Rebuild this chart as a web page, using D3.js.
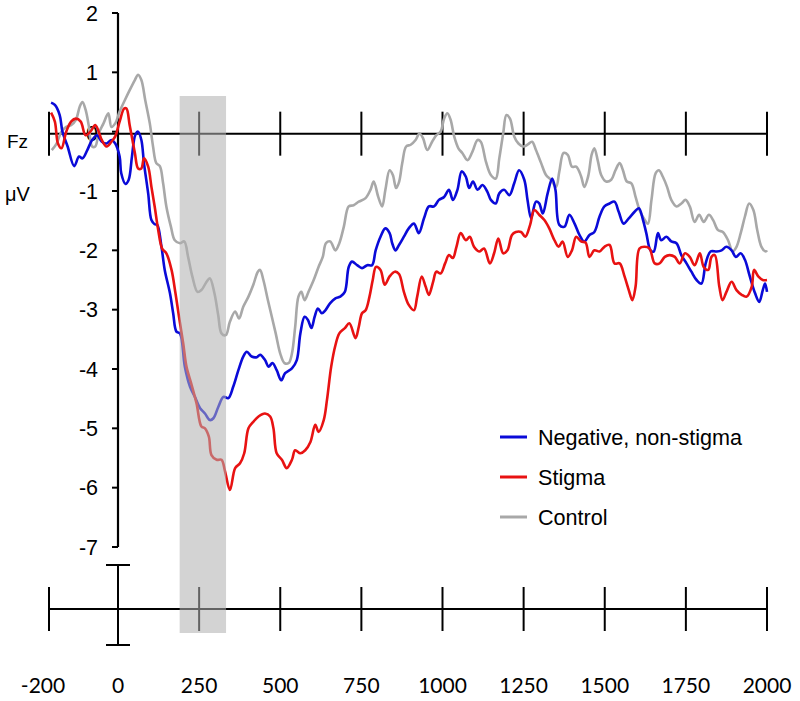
<!DOCTYPE html>
<html><head><meta charset="utf-8">
<script src="https://cdn.jsdelivr.net/npm/d3@7"></script>
<style>body{margin:0;background:#fff}svg{display:block}</style>
</head><body><svg id="c" width="800" height="701"></svg>
<script>
// ---- data ----
const xTicks = [-200, 0, 250, 500, 750, 1000, 1250, 1500, 1750, 2000];
const yTicks = [2, 1, 0, -1, -2, -3, -4, -5, -6, -7];
const seriesNames = ["Negative, non-stigma", "Stigma", "Control"];
const seriesColors = ["#0a0ad8", "#e81212", "#a8a8a8"];
const shadeWindow = [190, 333];

const negative = [[-194,0.49],[-183,0.45],[-169,0.28],[-161,0.0],[-146,-0.25],[-127,-0.58],[-113,-0.42],[-103,-0.45],[-89,-0.31],[-75,-0.14],[-61,-0.06],[-47,-0.17],[-33,-0.2],[-19,-0.14],[-8,-0.2],[5,-0.42],[10,-0.70],[23,-0.88],[33,-0.81],[43,-0.42],[53,-0.06],[62,0.0],[72,-0.14],[80,-0.53],[93,-1.04],[103,-1.49],[113,-1.56],[121,-1.57],[134,-1.94],[144,-2.33],[160,-2.72],[170,-3.06],[180,-3.37],[191,-3.40],[206,-3.96],[222,-4.30],[237,-4.47],[253,-4.66],[268,-4.75],[283,-4.86],[294,-4.83],[309,-4.64],[325,-4.47],[340,-4.49],[355,-4.30],[371,-4.02],[386,-3.79],[397,-3.71],[412,-3.79],[428,-3.80],[438,-3.76],[453,-3.85],[464,-3.96],[476,-3.90],[489,-4.02],[503,-4.19],[515,-4.07],[536,-3.99],[551,-3.85],[562,-3.40],[575,-3.12],[585,-3.17],[596,-3.31],[606,-3.12],[616,-2.98],[628,-3.06],[639,-3.01],[654,-2.89],[670,-2.81],[685,-2.78],[699,-2.70],[711,-2.28],[721,-2.19],[737,-2.25],[752,-2.30],[768,-2.25],[783,-2.25],[794,-2.0],[809,-1.77],[824,-1.63],[837,-1.71],[845,-1.88],[855,-2.0],[866,-1.91],[881,-1.77],[896,-1.63],[912,-1.55],[927,-1.71],[943,-1.46],[958,-1.26],[974,-1.26],[989,-1.15],[1005,-1.10],[1020,-0.98],[1032,-1.15],[1046,-0.98],[1059,-0.67],[1072,-0.76],[1082,-0.95],[1094,-0.84],[1108,-0.98],[1123,-0.90],[1138,-1.01],[1149,-1.15],[1164,-1.21],[1175,-1.04],[1190,-0.98],[1206,-1.07],[1221,-0.87],[1236,-0.65],[1252,-0.81],[1262,-1.15],[1273,-1.46],[1288,-1.18],[1298,-1.21],[1309,-1.38],[1324,-1.04],[1338,-0.79],[1348,-0.98],[1360,-1.57],[1376,-1.60],[1391,-1.40],[1407,-1.55],[1422,-1.74],[1437,-1.85],[1453,-1.74],[1468,-1.69],[1484,-1.43],[1499,-1.26],[1515,-1.21],[1530,-1.18],[1543,-1.35],[1558,-1.55],[1574,-1.46],[1592,-1.35],[1605,-1.29],[1618,-1.49],[1628,-1.71],[1641,-2.0],[1651,-2.02],[1664,-1.71],[1674,-1.83],[1690,-1.77],[1705,-1.85],[1721,-1.88],[1736,-2.08],[1752,-2.22],[1767,-2.36],[1783,-2.50],[1798,-2.56],[1811,-2.22],[1826,-2.02],[1845,-2.02],[1860,-2.0],[1875,-1.94],[1891,-2.0],[1904,-2.11],[1919,-2.05],[1932,-2.16],[1947,-2.44],[1963,-2.72],[1976,-2.87],[1987,-2.67],[1994,-2.56],[2000,-2.70]];

const stigma = [[-194,0.32],[-183,0.17],[-174,-0.2],[-164,-0.28],[-150,0.0],[-136,0.17],[-122,0.22],[-108,0.17],[-94,-0.06],[-80,0.0],[-66,0.11],[-56,0.0],[-47,-0.14],[-33,-0.25],[-19,-0.17],[-8,-0.08],[5,0.17],[19,0.39],[26,0.39],[36,0.11],[52,-0.36],[62,-0.62],[72,-0.62],[80,-0.45],[93,-0.59],[103,-0.93],[113,-1.26],[124,-1.66],[136,-1.97],[149,-2.05],[165,-2.33],[177,-2.72],[188,-3.12],[201,-3.57],[211,-3.96],[227,-4.27],[242,-4.58],[257,-4.97],[268,-5.0],[280,-5.14],[288,-5.45],[304,-5.53],[319,-5.53],[330,-5.73],[345,-6.04],[361,-5.67],[376,-5.59],[389,-5.42],[402,-5.0],[417,-4.89],[433,-4.80],[453,-4.75],[469,-4.80],[479,-5.0],[489,-5.42],[505,-5.53],[520,-5.67],[536,-5.53],[546,-5.37],[562,-5.42],[577,-5.37],[593,-5.23],[608,-4.94],[618,-5.06],[634,-4.86],[644,-4.52],[657,-3.96],[670,-3.60],[682,-3.40],[699,-3.31],[713,-3.23],[732,-3.48],[742,-3.29],[752,-3.06],[763,-3.01],[775,-2.78],[785,-2.50],[795,-2.28],[809,-2.33],[822,-2.58],[837,-2.44],[853,-2.36],[866,-2.40],[881,-2.70],[896,-2.92],[912,-3.01],[922,-2.78],[936,-2.44],[948,-2.61],[958,-2.75],[971,-2.53],[981,-2.36],[994,-2.39],[1008,-2.22],[1020,-2.08],[1032,-2.13],[1043,-1.94],[1056,-1.71],[1072,-1.83],[1084,-1.77],[1097,-1.94],[1113,-2.02],[1128,-1.97],[1146,-2.22],[1159,-2.05],[1172,-1.80],[1187,-2.05],[1200,-2.0],[1214,-1.74],[1226,-1.69],[1242,-1.69],[1255,-1.77],[1270,-1.57],[1283,-1.32],[1298,-1.40],[1314,-1.49],[1329,-1.63],[1345,-1.83],[1358,-1.94],[1370,-1.85],[1386,-2.11],[1399,-2.0],[1412,-1.77],[1427,-1.85],[1441,-1.87],[1453,-2.11],[1468,-2.0],[1484,-2.02],[1499,-1.94],[1515,-1.91],[1530,-2.22],[1546,-2.22],[1561,-2.44],[1574,-2.67],[1585,-2.84],[1595,-2.61],[1607,-1.97],[1623,-1.94],[1638,-1.97],[1654,-2.22],[1669,-2.22],[1685,-2.11],[1700,-2.08],[1716,-2.11],[1731,-2.22],[1747,-2.05],[1762,-2.11],[1777,-2.25],[1793,-2.05],[1805,-2.28],[1819,-2.33],[1829,-2.11],[1839,-2.08],[1853,-2.61],[1863,-2.84],[1875,-2.70],[1891,-2.53],[1906,-2.67],[1922,-2.75],[1937,-2.78],[1953,-2.61],[1960,-2.33],[1973,-2.44],[1987,-2.50],[2000,-2.50]];

const control = [[-192,-0.31],[-178,-0.2],[-164,0.0],[-150,0.08],[-136,0.11],[-122,0.2],[-111,0.42],[-103,0.5],[-94,0.37],[-85,0.11],[-75,-0.25],[-66,-0.25],[-56,-0.03],[-42,0.14],[-28,0.31],[-19,0.08],[-8,0.14],[5,0.34],[21,0.53],[36,0.70],[52,0.87],[62,0.96],[72,0.87],[84,0.53],[98,0.14],[108,-0.25],[118,-0.53],[129,-0.58],[139,-0.87],[149,-1.26],[163,-1.60],[175,-1.83],[191,-1.88],[204,-1.85],[216,-2.11],[229,-2.44],[245,-2.70],[257,-2.67],[273,-2.53],[283,-2.47],[297,-2.72],[309,-3.10],[319,-3.40],[332,-3.43],[345,-3.20],[361,-3.03],[373,-3.15],[386,-2.95],[402,-2.78],[417,-2.58],[431,-2.36],[438,-2.33],[448,-2.50],[462,-2.84],[474,-3.12],[486,-3.40],[500,-3.74],[513,-3.90],[526,-3.90],[536,-3.74],[546,-3.29],[556,-2.78],[565,-2.70],[575,-2.84],[587,-2.70],[603,-2.50],[618,-2.28],[631,-2.11],[641,-1.88],[654,-1.85],[670,-2.0],[682,-1.88],[696,-1.60],[711,-1.26],[726,-1.24],[742,-1.18],[763,-1.12],[778,-0.98],[788,-0.84],[802,-1.10],[814,-1.26],[824,-0.98],[837,-0.65],[847,-0.73],[857,-0.95],[866,-0.85],[876,-0.53],[888,-0.25],[902,-0.22],[917,-0.14],[929,-0.03],[940,-0.11],[953,-0.31],[968,-0.17],[981,-0.06],[994,0.0],[1005,0.22],[1015,0.31],[1025,0.2],[1036,-0.08],[1049,-0.28],[1061,-0.36],[1077,-0.48],[1092,-0.34],[1108,-0.14],[1118,-0.17],[1134,-0.51],[1149,-0.73],[1164,-0.79],[1175,-0.45],[1187,-0.03],[1197,0.28],[1208,0.22],[1221,-0.08],[1234,-0.20],[1249,-0.25],[1262,-0.22],[1276,-0.17],[1288,-0.31],[1304,-0.53],[1319,-0.73],[1334,-0.81],[1350,-0.93],[1360,-0.67],[1373,-0.36],[1386,-0.39],[1399,-0.59],[1412,-0.59],[1427,-0.75],[1437,-0.93],[1449,-0.75],[1460,-0.38],[1468,-0.28],[1479,-0.50],[1489,-0.73],[1504,-0.84],[1520,-0.81],[1533,-0.65],[1546,-0.53],[1556,-0.65],[1568,-0.84],[1582,-0.87],[1595,-1.10],[1607,-1.32],[1620,-1.46],[1633,-1.55],[1644,-1.15],[1657,-0.70],[1667,-0.65],[1679,-0.76],[1692,-0.93],[1705,-1.15],[1721,-1.26],[1736,-1.21],[1749,-1.15],[1762,-1.26],[1777,-1.52],[1791,-1.40],[1805,-1.52],[1821,-1.40],[1834,-1.49],[1849,-1.66],[1864,-1.69],[1880,-1.83],[1894,-2.02],[1906,-1.94],[1919,-1.71],[1932,-1.43],[1945,-1.21],[1958,-1.32],[1970,-1.66],[1983,-1.94],[1996,-2.02],[2000,-2.0]];

// ---- drawing ----
const svg = d3.select("#c");
const x = d3.scaleLinear().domain([-200, 0, 2000]).range([49, 118, 767]);
const y = d3.scaleLinear().domain([2, -7]).range([13, 547]);
const font = "'Liberation Sans', Arial, sans-serif";
const zeroY = y(0) + 2;
const bottomY = 609;
const tickHalf = 22;

// top (zero) axis
const topAxis = svg.append("g");
topAxis.append("line").attr("x1", x(-200)).attr("x2", x(2000)).attr("y1", zeroY).attr("y2", zeroY)
  .attr("stroke", "#000").attr("stroke-width", 2);
topAxis.selectAll("line.t").data(xTicks.filter(d => d !== 0)).join("line").attr("class", "t")
  .attr("x1", d => x(d)).attr("x2", d => x(d)).attr("y1", zeroY - tickHalf).attr("y2", zeroY + tickHalf)
  .attr("stroke", "#000").attr("stroke-width", 2);

// y axis
const yAxis = svg.append("g");
yAxis.append("line").attr("x1", x(0)).attr("x2", x(0)).attr("y1", y(2)).attr("y2", y(-7))
  .attr("stroke", "#000").attr("stroke-width", 2.2);
yAxis.selectAll("line.t").data(yTicks).join("line").attr("class", "t")
  .attr("x1", x(0) - 6).attr("x2", x(0)).attr("y1", d => y(d)).attr("y2", d => y(d))
  .attr("stroke", "#000").attr("stroke-width", 2);
yAxis.selectAll("text").data(yTicks).join("text")
  .attr("x", x(0) - 20).attr("y", d => y(d) + (d === 0 ? 2 : 0)).attr("dy", "0.36em")
  .attr("text-anchor", "end").attr("font-family", font).attr("font-size", 21.5)
  .text(d => d);

svg.append("text").attr("x", 7).attr("y", 141).attr("dy", "0.36em").attr("font-family", font)
  .attr("font-size", 19).text("Fz");
svg.append("text").attr("x", 5).attr("y", 194).attr("dy", "0.36em").attr("font-family", font)
  .attr("font-size", 20).text("μV");

// series
const line = d3.line().x(d => x(d[0])).y(d => y(d[1])).curve(d3.curveCatmullRom.alpha(0.5));
const allSeries = [negative, stigma, control];
const order = [2, 0, 1];
svg.append("g").selectAll("path").data(order).join("path")
  .attr("d", i => line(allSeries[i])).attr("fill", "none")
  .attr("stroke", i => seriesColors[i]).attr("stroke-width", 2.6).attr("stroke-linejoin", "round");

// bottom axis
const bAxis = svg.append("g");
bAxis.append("line").attr("x1", x(-200)).attr("x2", x(2000)).attr("y1", bottomY).attr("y2", bottomY)
  .attr("stroke", "#000").attr("stroke-width", 2);
bAxis.selectAll("line.t").data(xTicks.filter(d => d !== 0)).join("line").attr("class", "t")
  .attr("x1", d => x(d)).attr("x2", d => x(d)).attr("y1", bottomY - tickHalf).attr("y2", bottomY + tickHalf)
  .attr("stroke", "#000").attr("stroke-width", 2);
// scale bar at 0
bAxis.append("line").attr("x1", x(0)).attr("x2", x(0)).attr("y1", 565).attr("y2", 645)
  .attr("stroke", "#000").attr("stroke-width", 2);
[565, 645].forEach(yy => bAxis.append("line").attr("x1", x(0) - 12).attr("x2", x(0) + 12)
  .attr("y1", yy).attr("y2", yy).attr("stroke", "#000").attr("stroke-width", 2));
bAxis.selectAll("text").data(xTicks).join("text")
  .attr("x", d => x(d) - (d === -200 ? 6 : 0)).attr("y", 693).attr("text-anchor", "middle")
  .attr("font-family", "Lato, 'Open Sans', sans-serif").attr("font-size", 21).text(d => d);

// shaded window (drawn on top, semi-transparent)
svg.append("rect").attr("x", x(shadeWindow[0])).attr("width", x(shadeWindow[1]) - x(shadeWindow[0]))
  .attr("y", 96).attr("height", 537).attr("fill", "#b0b0b0").attr("fill-opacity", 0.56);

// legend
const leg = svg.append("g");
seriesNames.forEach((n, i) => {
  const ly = 437 + i * 40;
  leg.append("line").attr("x1", 500).attr("x2", 527).attr("y1", ly).attr("y2", ly)
    .attr("stroke", seriesColors[i]).attr("stroke-width", 3);
  leg.append("text").attr("x", 538).attr("y", ly).attr("dy", "0.36em").attr("font-family", font)
    .attr("font-size", 21.6).text(n);
});
</script></body></html>
